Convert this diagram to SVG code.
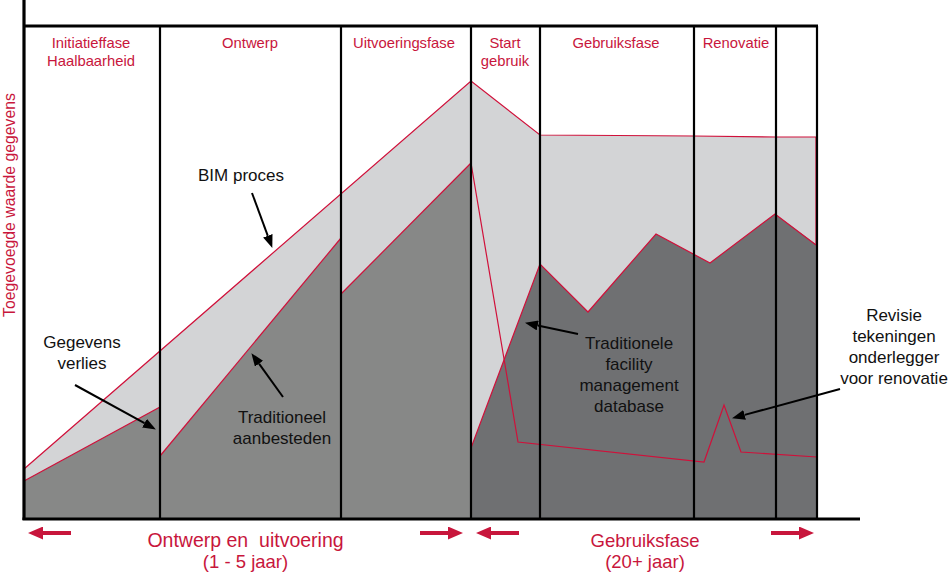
<svg xmlns="http://www.w3.org/2000/svg" width="950" height="575" viewBox="0 0 950 575">
<style>
.lt{fill:#d3d4d6;stroke:none}
.md{fill:#878887;stroke:none}
.dk{fill:#6f7072;stroke:none}
.rl{fill:none;stroke:#d0103a;stroke-width:1.2;stroke-linejoin:miter}
.div{stroke:#000;stroke-width:2.2;fill:none}
.ax{stroke:#000;stroke-width:3.2;fill:none}
.rt{fill:#c8163c;font-family:"Liberation Sans",Arial,sans-serif;text-anchor:middle}
.hd{font-size:14.8px}
.bt{font-size:18.5px;white-space:pre}
.bk{fill:#111;font-family:"Liberation Sans",Arial,sans-serif;font-size:17px;text-anchor:middle}
.ba{stroke:#000;stroke-width:2;fill:none}
.ra{stroke:#c8163c;stroke-width:4;fill:none}
</style>
<defs>
<marker id="bh" markerUnits="userSpaceOnUse" markerWidth="13" markerHeight="10" refX="0" refY="5" orient="auto">
<path d="M0,0 L13,5 L0,10 z" fill="#000"/>
</marker>
<marker id="rh" markerUnits="userSpaceOnUse" markerWidth="15" markerHeight="13" refX="0" refY="6.5" orient="auto">
<path d="M0,0 L15,6.5 L0,13 z" fill="#c8163c"/>
</marker>
</defs>
<rect width="950" height="575" fill="#fff"/>

<g id="bim-area">
<polygon class="lt" points="24,469 471,81 540,135 694,136 776,137 817,137 817,519 24,519"/>
<polyline class="rl" points="24,469 471,81 540,135 694,136 776,137 816,137 816,245"/>
</g>

<g id="traditioneel-1">
<polygon class="md" points="24,481 160,407 160,519 24,519"/>
<polyline class="rl" points="24,481 160,407"/>
</g>
<g id="traditioneel-2">
<polygon class="md" points="160,456 341,238 341,519 160,519"/>
<polyline class="rl" points="160,456 341,238"/>
</g>
<g id="traditioneel-3">
<polygon class="md" points="341,294 471,163 471,519 341,519"/>
<polyline class="rl" points="341,294 471,163"/>
</g>
<g id="gebruik-area">
<polygon class="dk" points="471,448 540,264 588,312 656,234 710,263 775,214 817,245 817,519 471,519"/>
<polyline class="rl" points="471,448 540,264 588,312 656,234 710,263 775,214 816,245"/>
</g>
<g id="facility-line">
<polyline class="rl" points="471,163 518,442 704,462 724,405 741,452 817,457"/>
</g>

<g id="frame">
<line class="div" x1="160" y1="26" x2="160" y2="519"/>
<line class="div" x1="341" y1="26" x2="341" y2="519"/>
<line class="div" x1="471" y1="26" x2="471" y2="519"/>
<line class="div" x1="540" y1="26" x2="540" y2="519"/>
<line class="div" x1="694" y1="26" x2="694" y2="519"/>
<line class="div" x1="776" y1="26" x2="776" y2="519"/>
<line class="div" x1="817" y1="26" x2="817" y2="519"/>
<line class="ax" x1="24" y1="26" x2="818" y2="26"/>
<line class="ax" x1="24" y1="0" x2="24" y2="520"/>
<line class="ax" x1="22.5" y1="519" x2="860" y2="519"/>
</g>

<g id="headers">
<text class="rt hd" x="91" y="48">Initiatieffase</text>
<text class="rt hd" x="91" y="66">Haalbaarheid</text>
<text class="rt hd" x="250" y="48">Ontwerp</text>
<text class="rt hd" x="404" y="48">Uitvoeringsfase</text>
<text class="rt hd" x="505" y="48">Start</text>
<text class="rt hd" x="505" y="66">gebruik</text>
<text class="rt hd" x="616" y="48">Gebruiksfase</text>
<text class="rt hd" x="736" y="48">Renovatie</text>
</g>

<g id="y-label">
<text class="rt" style="font-size:15.8px" transform="translate(15,205) rotate(-90)" x="0" y="0">Toegevoegde waarde gegevens</text>
</g>

<g id="label-bim">
<text class="bk" x="241" y="181">BIM proces</text>
</g>
<g id="label-verlies">
<text class="bk" x="82" y="348">Gegevens</text>
<text class="bk" x="82" y="369">verlies</text>
</g>
<g id="label-traditioneel">
<text class="bk" x="282" y="423">Traditioneel</text>
<text class="bk" x="282" y="444">aanbesteden</text>
</g>
<g id="label-facility">
<text class="bk" x="629" y="349">Traditionele</text>
<text class="bk" x="629" y="370">facility</text>
<text class="bk" x="629" y="391">management</text>
<text class="bk" x="629" y="412">database</text>
</g>
<g id="label-revisie">
<text class="bk" x="894" y="321">Revisie</text>
<text class="bk" x="894" y="342">tekeningen</text>
<text class="bk" x="894" y="363">onderlegger</text>
<text class="bk" x="894" y="384">voor renovatie</text>
</g>

<g id="connectors">
<line class="ba" x1="252" y1="193" x2="267.8" y2="235.8" marker-end="url(#bh)"/>
<line class="ba" x1="75" y1="385" x2="144.5" y2="423.2" marker-end="url(#bh)"/>
<line class="ba" x1="283" y1="397" x2="259" y2="363.7" marker-end="url(#bh)"/>
<line class="ba" x1="578" y1="334" x2="537.7" y2="325.5" marker-end="url(#bh)"/>
<line class="ba" x1="840" y1="389" x2="744.6" y2="414.9" marker-end="url(#bh)"/>
</g>

<g id="bottom-arrows">
<line class="ra" x1="71" y1="533" x2="43" y2="533" marker-end="url(#rh)"/>
<line class="ra" x1="420" y1="533" x2="448" y2="533" marker-end="url(#rh)"/>
<line class="ra" x1="519" y1="533" x2="491" y2="533" marker-end="url(#rh)"/>
<line class="ra" x1="771" y1="533" x2="799" y2="533" marker-end="url(#rh)"/>
</g>

<g id="bottom-labels">
<text class="rt bt" x="245.5" y="547" xml:space="preserve" style="font-size:19.5px">Ontwerp en  uitvoering</text>
<text class="rt bt" x="245.5" y="568">(1 - 5 jaar)</text>
<text class="rt bt" x="645" y="547">Gebruiksfase</text>
<text class="rt bt" x="645" y="568">(20+ jaar)</text>
</g>
</svg>
